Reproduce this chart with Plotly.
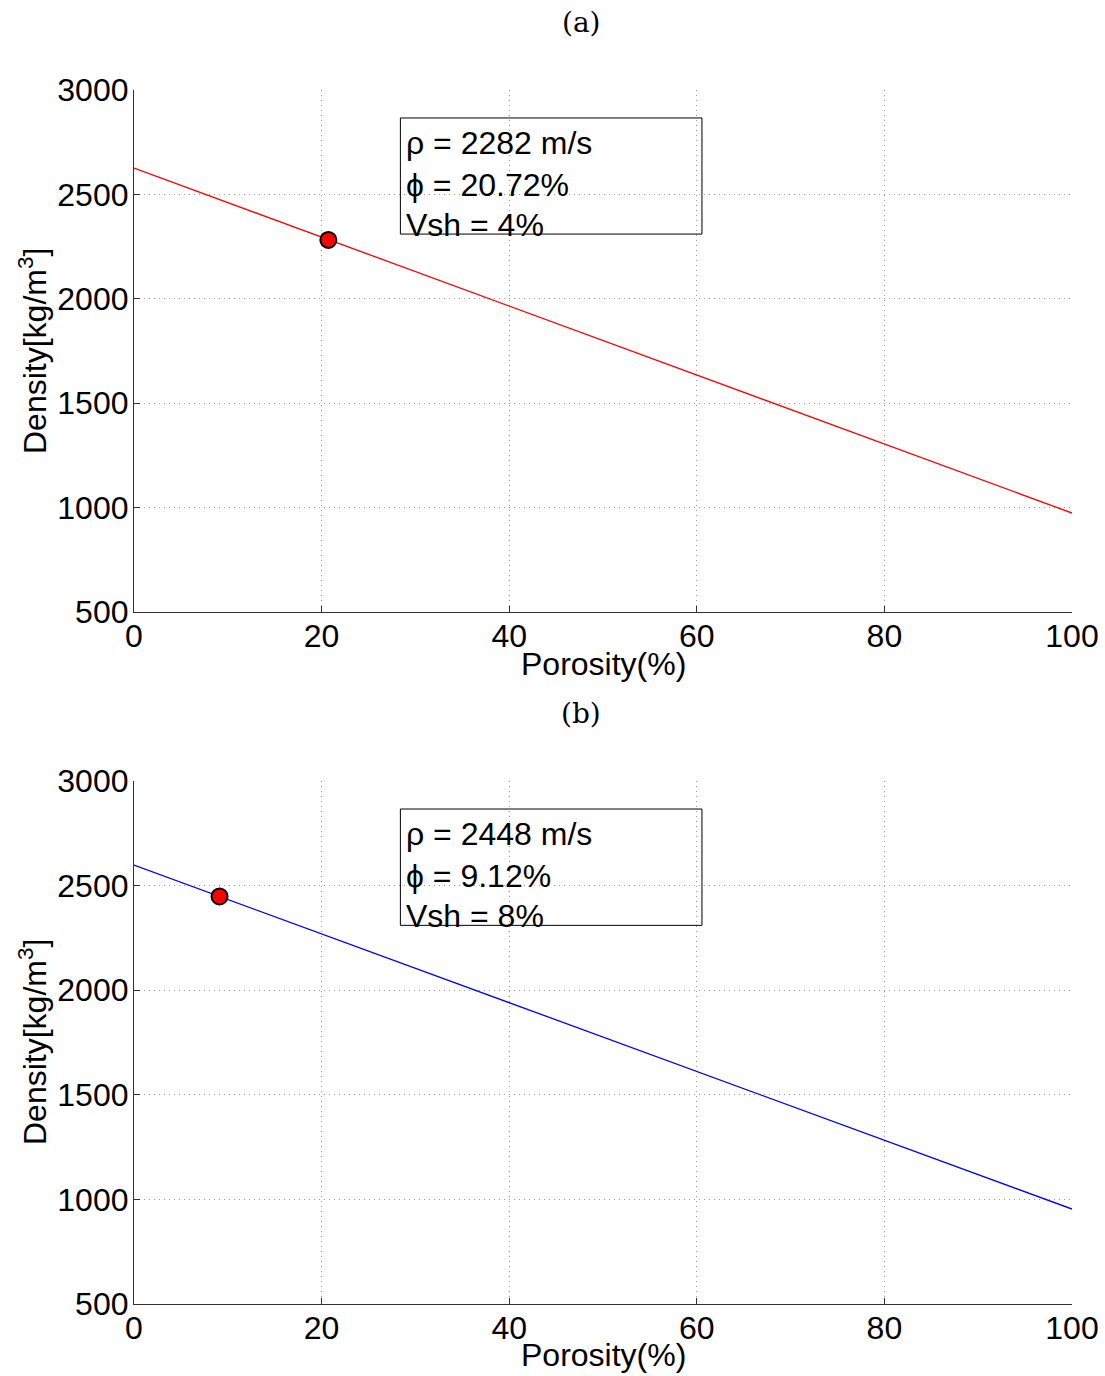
import plotly.graph_objects as go

# ---- data ----
porosity_line = [0, 100]
density_line_a = [2626, 974]
density_line_b = [2598, 954]
point_a_phi = [20.72]
point_a_rho = [2282]
point_b_phi = [9.12]
point_b_rho = [2448]
labels_a = ["ρ = 2282 m/s", "ϕ = 20.72%", "Vsh = 4%"]
labels_b = ["ρ = 2448 m/s", "ϕ = 9.12%", "Vsh = 8%"]
x_ticks = [0, 20, 40, 60, 80, 100]
y_ticks = [500, 1000, 1500, 2000, 2500, 3000]
panel_titles = ["(a)", "(b)"]

W, H = 1105, 1376
FONT = "Liberation Sans"
FS = 32

fig = go.Figure()

def px_y(p):
    return 1 - p / H

xdom = [134 / W, 1072 / W]
ydoms = [[px_y(612), px_y(90)], [px_y(1304), px_y(781)]]

fig.add_trace(go.Scatter(x=porosity_line, y=density_line_a, mode="lines",
                         line=dict(color="red", width=1.3), xaxis="x", yaxis="y", showlegend=False))
fig.add_trace(go.Scatter(x=point_a_phi, y=point_a_rho, mode="markers",
                         marker=dict(color="red", size=16, line=dict(color="black", width=2)),
                         xaxis="x", yaxis="y", showlegend=False))
fig.add_trace(go.Scatter(x=porosity_line, y=density_line_b, mode="lines",
                         line=dict(color="blue", width=1.3), xaxis="x2", yaxis="y2", showlegend=False))
fig.add_trace(go.Scatter(x=point_b_phi, y=point_b_rho, mode="markers",
                         marker=dict(color="red", size=16, line=dict(color="black", width=2)),
                         xaxis="x2", yaxis="y2", showlegend=False))

axis_common = dict(showgrid=True, gridcolor="#9a9a9a", griddash="1px,4px", gridwidth=1,
                   showline=True, linecolor="#333333", linewidth=1.2,
                   ticks="inside", ticklen=6, tickcolor="#333333",
                   tickfont=dict(family=FONT, size=FS, color="black"),
                   zeroline=False, mirror=False, automargin=False)

fig.update_layout(
    width=W, height=H, margin=dict(l=0, r=0, t=0, b=0, autoexpand=False),
    plot_bgcolor="white", paper_bgcolor="white",
    xaxis=dict(domain=xdom, range=[0, 100], tickvals=x_ticks, anchor="y", ticklabelstandoff=-5, **axis_common),
    yaxis=dict(domain=ydoms[0], range=[500, 3000], tickvals=y_ticks, anchor="x", ticklabelstandoff=-2, **axis_common),
    xaxis2=dict(domain=xdom, range=[0, 100], tickvals=x_ticks, anchor="y2", ticklabelstandoff=-5, **axis_common),
    yaxis2=dict(domain=ydoms[1], range=[500, 3000], tickvals=y_ticks, anchor="x2", ticklabelstandoff=-2, **axis_common),
)

annotations = []
shapes = []
for i, (labels, xr, yr) in enumerate([(labels_a, "x", "y"), (labels_b, "x2", "y2")]):
    shapes.append(dict(type="rect", xref=xr, yref=yr, x0=28.4, x1=60.55, y0=2310, y1=2866,
                       line=dict(color="black", width=1), fillcolor="rgba(0,0,0,0)"))
    for txt, yv in zip(labels, [2746, 2545, 2353]):
        annotations.append(dict(xref=xr, yref=yr, x=28.8, y=yv, text=txt, showarrow=False,
                                xanchor="left", yanchor="middle",
                                font=dict(family=FONT, size=FS, color="black")))
# panel titles, axis titles
for t, ty, xt_y, yt_y in [(panel_titles[0], 22, 664, 351), (panel_titles[1], 713, 1355, 1042)]:
    annotations.append(dict(xref="paper", yref="paper", x=581 / W, y=px_y(ty), text=t,
                            showarrow=False, xanchor="center", yanchor="middle",
                            font=dict(family="DejaVu Serif", size=28, color="black")))
    annotations.append(dict(xref="paper", yref="paper", x=603 / W, y=px_y(xt_y), text="Porosity(%)",
                            showarrow=False, xanchor="center", yanchor="middle",
                            font=dict(family=FONT, size=FS, color="black")))
    annotations.append(dict(xref="paper", yref="paper", x=33 / W, y=px_y(yt_y),
                            text="Density[kg/m<sup>3</sup>]", textangle=-90,
                            showarrow=False, xanchor="center", yanchor="middle",
                            font=dict(family=FONT, size=FS, color="black")))

fig.update_layout(annotations=annotations, shapes=shapes)
fig.write_html("out.html")
